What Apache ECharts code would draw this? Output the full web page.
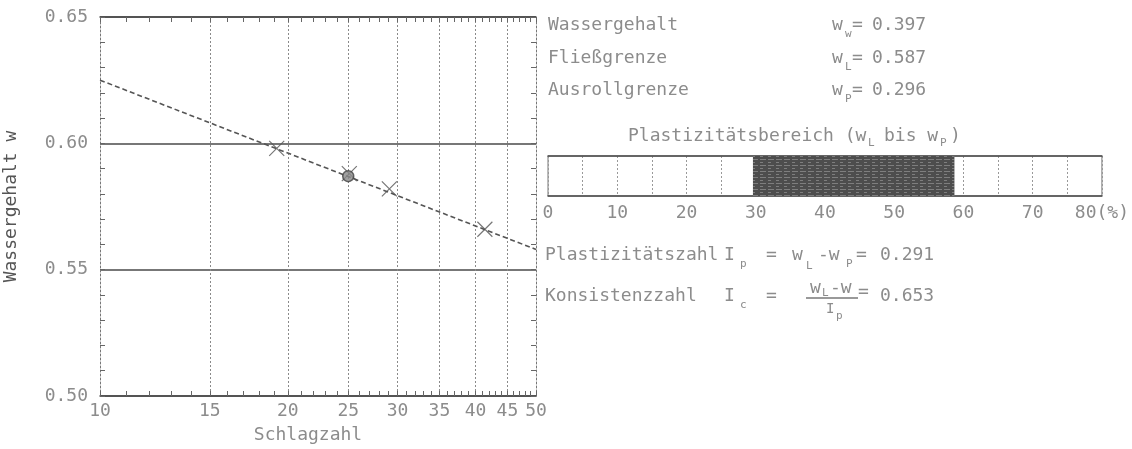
<!DOCTYPE html>
<html>
<head>
<meta charset="utf-8">
<script src="https://cdn.jsdelivr.net/npm/echarts@6/dist/echarts.min.js"></script>
<style>
  html, body { margin: 0; padding: 0; background: #fff; }
  #chart { width: 1132px; height: 449px; }
</style>
</head>
<body>
<div id="chart"></div>
<script>
// Fließgrenze nach Casagrande: Wassergehalt über Schlagzahl (log. Teilung)
const schlagzahl   = [19.2, 25.1, 29.1, 41.4];
const wassergehalt = [0.598, 0.588, 0.582, 0.566];

// Ausgleichsgerade, Endpunkte am Rand des Diagramms
const geradeN = [10, 50];
const geradeW = [0.625, 0.558];

// Achsteilungen
const xLabelWerte = [10, 15, 20, 25, 30, 35, 40, 45, 50];
const xRasterWerte = [15, 20, 25, 30, 35, 40, 45];
const xStrichWerte = [10, 11, 12, 13, 14, 15, 16, 17, 18, 19, 20, 21, 22, 23, 24, 25, 26, 27, 28, 29, 30,
                      31, 32, 33, 34, 35, 36, 37, 38, 39, 40, 41, 42, 43, 44, 45, 46, 47, 48, 49, 50];

// Kennwerte
const wN = 0.397;          // natürlicher Wassergehalt
const wL = 0.587;          // Fließgrenze
const wP = 0.296;          // Ausrollgrenze
const nFliess = 25;        // Schlagzahl der Fließgrenze
const Ip = wL - wP;        // Plastizitätszahl
const Ic = (wL - wN) / Ip; // Konsistenzzahl

const FONT = '"DejaVu Sans Mono", "Liberation Mono", monospace';
const GREY = '#8c8c8c';
const INK = '#4a4a4a';

function txt(x, y, s, size, color, align) {
  return {
    type: 'text', x: x, y: y, silent: true,
    style: {
      text: s, fill: color || GREY, fontFamily: FONT, fontSize: size || 18,
      align: align || 'left', verticalAlign: 'middle'
    }
  };
}
function sub(x, y, s) { return txt(x, y + 9, s, 11); }

const texte = [
  // Kennwerte
  txt(548, 25, 'Wassergehalt'), txt(832, 25, 'w'), sub(845, 25, 'w'), txt(852, 25, '='), txt(872, 25, wN.toFixed(3)),
  txt(548, 58, 'Fließgrenze'), txt(832, 58, 'w'), sub(845, 58, 'L'), txt(852, 58, '='), txt(872, 58, wL.toFixed(3)),
  txt(548, 90, 'Ausrollgrenze'), txt(832, 90, 'w'), sub(845, 90, 'P'), txt(852, 90, '='), txt(872, 90, wP.toFixed(3)),
  // Plastizitätsbereich
  txt(628, 136, 'Plastizitätsbereich (w'), sub(868, 134, 'L'), txt(884, 136, 'bis w'), sub(940, 134, 'P'), txt(950, 136, ')'),
  // Plastizitätszahl
  txt(545, 255, 'Plastizitätszahl'), txt(724, 255, 'I'), sub(740, 255, 'p'), txt(766, 255, '='),
  txt(792, 255, 'w'), sub(806, 257, 'L'), txt(818, 255, '-w'), sub(846, 255, 'P'), txt(856, 255, '='),
  txt(880, 255, Ip.toFixed(3)),
  // Konsistenzzahl
  txt(545, 296, 'Konsistenzzahl'), txt(724, 296, 'I'), sub(740, 296, 'c'), txt(766, 296, '='),
  txt(810, 288, 'w'), sub(822, 284, 'L'), txt(830, 288, '-w'),
  { type: 'line', silent: true, shape: { x1: 806, y1: 298, x2: 858, y2: 298 }, style: { stroke: '#777', lineWidth: 1.5 } },
  txt(826, 309, 'I', 14), sub(836, 307, 'p'),
  txt(858, 292, '='), txt(880, 296, Ic.toFixed(3))
];

const axisText = { color: GREY, fontFamily: FONT, fontSize: 18 };

const chart = echarts.init(document.getElementById('chart'));
chart.setOption({
  animation: false,
  backgroundColor: '#fff',
  grid: [
    { left: 100, top: 17, width: 436, height: 382 },
    { left: 548, top: 156, width: 556, height: 40, show: true, borderColor: '#777', borderWidth: 1 }
  ],
  xAxis: [
    {
      gridIndex: 0, type: 'log', logBase: 10, min: 10, max: 50, position: 'bottom',
      axisLine: { show: true, onZero: false, lineStyle: { color: INK, width: 1.5 } },
      axisTick: { show: true, inside: true, length: 5, customValues: xStrichWerte, lineStyle: { color: '#666' } },
      axisLabel: Object.assign({ customValues: xLabelWerte, margin: 6, formatter: v => String(Math.round(v)) }, axisText),
      splitLine: { show: false },
      name: 'Schlagzahl', nameLocation: 'middle', nameGap: 30,
      nameTextStyle: Object.assign({ padding: [0, 20, 0, 0] }, axisText)
    },
    {
      gridIndex: 0, type: 'log', logBase: 10, min: 10, max: 50, position: 'bottom',
      axisLine: { show: false }, axisLabel: { show: false },
      axisTick: { show: false, customValues: xRasterWerte },
      splitLine: { show: true, lineStyle: { color: '#8a8a8a', width: 1, type: [2, 2] } }
    },
    {
      gridIndex: 0, type: 'log', logBase: 10, min: 10, max: 50, position: 'top',
      axisLine: { show: true, onZero: false, lineStyle: { color: INK, width: 1.5 } },
      axisTick: { show: true, inside: true, length: 5, customValues: xStrichWerte, lineStyle: { color: '#666' } },
      axisLabel: { show: false }, splitLine: { show: false }
    },
    {
      gridIndex: 1, type: 'value', min: 0, max: 80, interval: 5, position: 'bottom',
      axisLine: { show: true, onZero: false, lineStyle: { color: INK, width: 1.5 } },
      axisTick: { show: false },
      axisLabel: Object.assign({ margin: 8, formatter: v => (v % 10 ? '' : (v === 80 ? '80(%)' : String(v))) }, axisText),
      splitLine: { show: true, lineStyle: { color: '#999', width: 1, type: [2, 2] } }
    },
    {
      gridIndex: 1, type: 'value', min: 0, max: 80, position: 'top',
      axisLine: { show: true, onZero: false, lineStyle: { color: INK, width: 1.5 } },
      axisTick: { show: false }, axisLabel: { show: false }, splitLine: { show: false }
    }
  ],
  yAxis: [
    {
      gridIndex: 0, type: 'value', min: 0.5, max: 0.65, interval: 0.05, position: 'left',
      axisLine: { show: true, onZero: false, lineStyle: { color: '#777', width: 1, type: [2, 2] } },
      axisTick: { show: true, inside: true, length: 5, lineStyle: { color: '#666' } },
      minorTick: { show: true, splitNumber: 5, length: 5, lineStyle: { color: '#666' } },
      axisLabel: Object.assign({ margin: 12, formatter: v => v.toFixed(2) }, axisText),
      splitLine: { show: true, lineStyle: { color: INK, width: 1.5 } },
      name: 'Wassergehalt w', nameLocation: 'middle', nameGap: 80,
      nameTextStyle: { color: '#555', fontFamily: FONT, fontSize: 18 }
    },
    {
      gridIndex: 0, type: 'value', min: 0.5, max: 0.65, interval: 0.05, position: 'right',
      axisLine: { show: true, onZero: false, lineStyle: { color: '#777', width: 1, type: [2, 2] } },
      axisTick: { show: true, inside: true, length: 5, lineStyle: { color: '#666' } },
      minorTick: { show: true, splitNumber: 5, length: 5, lineStyle: { color: '#666' } },
      axisLabel: { show: false }, splitLine: { show: false }
    },
    { gridIndex: 1, type: 'category', data: ['Bereich'], show: false }
  ],
  series: [
    {
      type: 'line', xAxisIndex: 0, yAxisIndex: 0, z: 3,
      data: geradeN.map((n, i) => [n, geradeW[i]]),
      symbol: 'none', lineStyle: { color: '#555', width: 1.6, type: [5, 3] }
    },
    {
      type: 'scatter', xAxisIndex: 0, yAxisIndex: 0, z: 4,
      data: schlagzahl.map((n, i) => [n, wassergehalt[i]]),
      symbol: 'path://M0,0L10,10M10,0L0,10', symbolSize: 15,
      itemStyle: { color: 'none', borderColor: '#555', borderWidth: 1.2 }
    },
    {
      type: 'scatter', xAxisIndex: 0, yAxisIndex: 0, z: 5,
      data: [[nFliess, wL]], symbol: 'circle', symbolSize: 11,
      itemStyle: { color: '#8a8a8a', borderColor: '#444', borderWidth: 1.5 }
    },
    {
      type: 'bar', xAxisIndex: 3, yAxisIndex: 2, stack: 'bereich', barWidth: '100%',
      data: [wP * 100], itemStyle: { color: 'rgba(0,0,0,0)' }, silent: true
    },
    {
      type: 'bar', xAxisIndex: 3, yAxisIndex: 2, stack: 'bereich', barWidth: '100%',
      data: [Ip * 100],
      itemStyle: {
        color: '#4d4d4d',
        decal: { symbol: 'rect', symbolSize: 1, dashArrayX: [[6, 2], [3, 5]], dashArrayY: [1, 2], color: 'rgba(255,255,255,0.28)' }
      }
    }
  ],
  graphic: texte
});
</script>
</body>
</html>
